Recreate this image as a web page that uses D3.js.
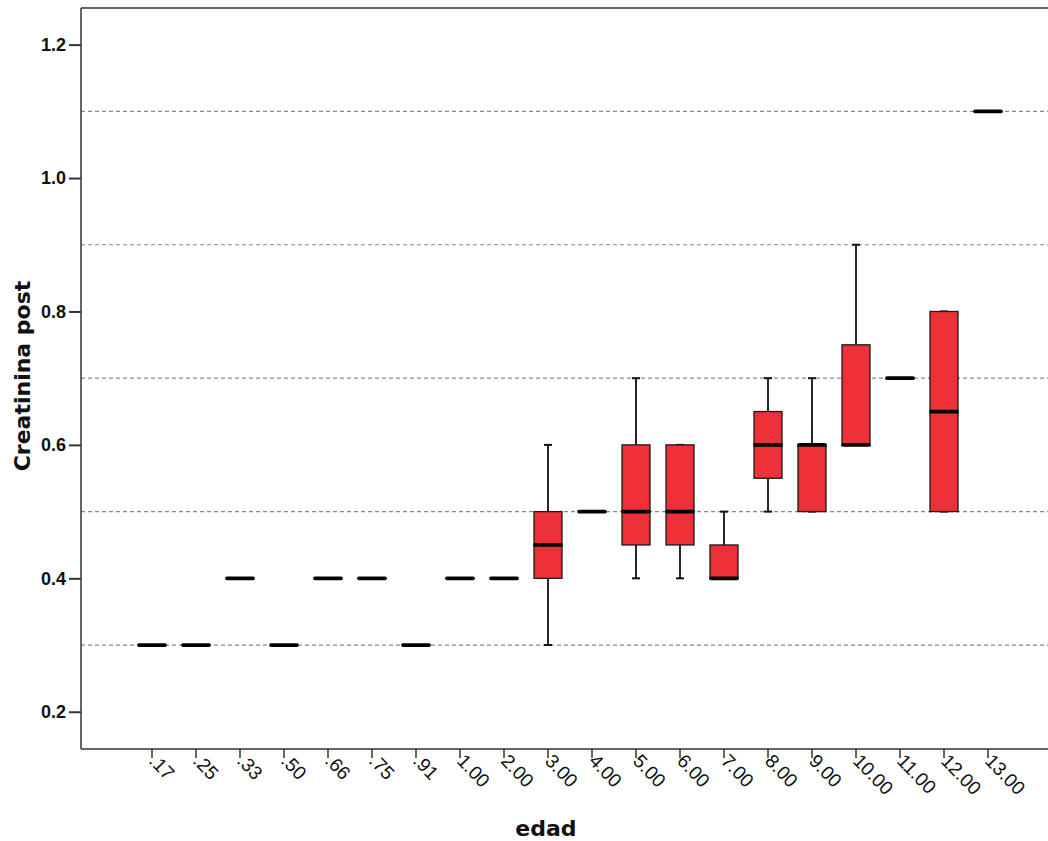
<!DOCTYPE html>
<html>
<head>
<meta charset="utf-8">
<script src="https://cdn.jsdelivr.net/npm/d3@7"></script>
<style>
  html, body { margin: 0; padding: 0; background: #fff; }
  svg { display: block; }
</style>
</head>
<body>
<svg id="chart" width="1048" height="841"></svg>
<script>
// ---- data ----
const categories = [".17", ".25", ".33", ".50", ".66", ".75", ".91", "1.00", "2.00", "3.00",
  "4.00", "5.00", "6.00", "7.00", "8.00", "9.00", "10.00", "11.00", "12.00", "13.00"];
const mins    = [0.3, 0.3, 0.4, 0.3, 0.4, 0.4, 0.3, 0.4, 0.4, 0.30, 0.5, 0.40, 0.40, 0.40, 0.50, 0.5, 0.60, 0.7, 0.50, 1.1];
const q1s     = [0.3, 0.3, 0.4, 0.3, 0.4, 0.4, 0.3, 0.4, 0.4, 0.40, 0.5, 0.45, 0.45, 0.40, 0.55, 0.5, 0.60, 0.7, 0.50, 1.1];
const medians = [0.3, 0.3, 0.4, 0.3, 0.4, 0.4, 0.3, 0.4, 0.4, 0.45, 0.5, 0.50, 0.50, 0.40, 0.60, 0.6, 0.60, 0.7, 0.65, 1.1];
const q3s     = [0.3, 0.3, 0.4, 0.3, 0.4, 0.4, 0.3, 0.4, 0.4, 0.50, 0.5, 0.60, 0.60, 0.45, 0.65, 0.6, 0.75, 0.7, 0.80, 1.1];
const maxs    = [0.3, 0.3, 0.4, 0.3, 0.4, 0.4, 0.3, 0.4, 0.4, 0.60, 0.5, 0.70, 0.60, 0.50, 0.70, 0.7, 0.90, 0.7, 0.80, 1.1];
const yTicks = [0.2, 0.4, 0.6, 0.8, 1.0, 1.2];
const refLines = [0.3, 0.5, 0.7, 0.9, 1.1];
const xTitle = "edad";
const yTitle = "Creatinina post";

const rows = categories.map((c, i) => ({
  cat: c, min: mins[i], q1: q1s[i], med: medians[i], q3: q3s[i], max: maxs[i]
}));

// ---- layout ----
const svg = d3.select("#chart");
const pLeft = 81, pTop = 8, pRight = 1048, pBottom = 749;

const x = d3.scaleBand().domain(categories).range([130, 1010]).paddingInner(0.36).paddingOuter(0.18);
const xc = d => x(d) + x.bandwidth() / 2;
const y = d3.scaleLinear().domain([0.14416, 1.25487]).range([pBottom, pTop]);
const boxW = 28;

// reference lines
svg.append("g").selectAll("line").data(refLines).join("line")
  .attr("x1", pLeft).attr("x2", pRight)
  .attr("y1", d => y(d)).attr("y2", d => y(d))
  .attr("stroke", "#8a8a8a").attr("stroke-width", 1.2)
  .attr("stroke-dasharray", "4,3");

// frame: top line
svg.append("line").attr("x1", pLeft).attr("x2", pRight).attr("y1", pTop).attr("y2", pTop)
  .attr("stroke", "#333").attr("stroke-width", 1.5);

// y axis
const yAxis = svg.append("g").attr("transform", `translate(${pLeft},0)`)
  .call(d3.axisLeft(y).tickValues(yTicks).tickFormat(d3.format(".1f")).tickSizeOuter(0).tickSize(12).tickPadding(3));
yAxis.attr("font-size", null).attr("font-family", null);
yAxis.select(".domain").attr("stroke", "#333").attr("stroke-width", 1.5)
  .attr("d", `M0,${pTop}V${pBottom}`);
yAxis.selectAll(".tick line").attr("stroke", "#333").attr("stroke-width", 2);
yAxis.selectAll(".tick text")
  .style("font-family", "'Liberation Sans', Arial, sans-serif")
  .style("font-weight", "bold").style("font-size", "18px").attr("fill", "#111");

// x axis
const xAxis = svg.append("g").attr("transform", `translate(0,${pBottom})`)
  .call(d3.axisBottom(x).tickSizeOuter(0).tickSize(9));
xAxis.attr("font-size", null).attr("font-family", null);
xAxis.select(".domain").attr("stroke", "#333").attr("stroke-width", 1.5)
  .attr("d", `M${pLeft},0H${pRight}`);
xAxis.selectAll(".tick line").attr("stroke", "#333").attr("stroke-width", 1.5);
xAxis.selectAll(".tick text")
  .style("font-family", "'Liberation Sans', Arial, sans-serif").style("font-size", "19px").attr("fill", "#111")
  .attr("text-anchor", "start").attr("dy", 0)
  .attr("transform", "translate(-4,13) rotate(46)")
  .attr("y", 0).attr("x", 0);

// boxes
const g = svg.append("g");
const boxRows = rows.filter(d => d.max > d.min);
// whiskers
g.selectAll(".wl").data(boxRows).join("line").attr("class", "wl")
  .attr("x1", d => xc(d.cat)).attr("x2", d => xc(d.cat))
  .attr("y1", d => y(d.min)).attr("y2", d => y(d.q1))
  .attr("stroke", "#111").attr("stroke-width", 1.8);
g.selectAll(".wh").data(boxRows).join("line").attr("class", "wh")
  .attr("x1", d => xc(d.cat)).attr("x2", d => xc(d.cat))
  .attr("y1", d => y(d.max)).attr("y2", d => y(d.q3))
  .attr("stroke", "#111").attr("stroke-width", 1.8);
// caps
["min", "max"].forEach(k => {
  g.selectAll(".cap" + k).data(boxRows).join("line").attr("class", "cap" + k)
    .attr("x1", d => xc(d.cat) - 4).attr("x2", d => xc(d.cat) + 4)
    .attr("y1", d => y(d[k])).attr("y2", d => y(d[k]))
    .attr("stroke", "#111").attr("stroke-width", 2);
});
// box rects
g.selectAll("rect").data(boxRows.filter(d => d.q3 > d.q1)).join("rect")
  .attr("x", d => xc(d.cat) - boxW / 2).attr("width", boxW)
  .attr("y", d => y(d.q3)).attr("height", d => y(d.q1) - y(d.q3))
  .attr("fill", "#ee3038").attr("stroke", "#1a1a1a").attr("stroke-width", 1.3);
// medians
g.selectAll(".med").data(rows).join("line").attr("class", "med")
  .attr("x1", d => xc(d.cat) - boxW / 2 + 1).attr("x2", d => xc(d.cat) + boxW / 2 - 1)
  .attr("y1", d => y(d.med)).attr("y2", d => y(d.med))
  .attr("stroke", "#000").attr("stroke-width", 3.8).attr("stroke-linecap", "round");

// titles
svg.append("text").attr("x", 546).attr("y", 836).attr("text-anchor", "middle")
  .style("font-family", "'DejaVu Sans', Verdana, sans-serif").style("font-weight", "bold")
  .style("font-size", "22px").attr("fill", "#111").text(xTitle);
svg.append("text").attr("transform", "translate(30,376) rotate(-90)").attr("text-anchor", "middle")
  .style("font-family", "'DejaVu Sans', Verdana, sans-serif").style("font-weight", "bold")
  .style("font-size", "22px").attr("fill", "#111").text(yTitle);
</script>
</body>
</html>
